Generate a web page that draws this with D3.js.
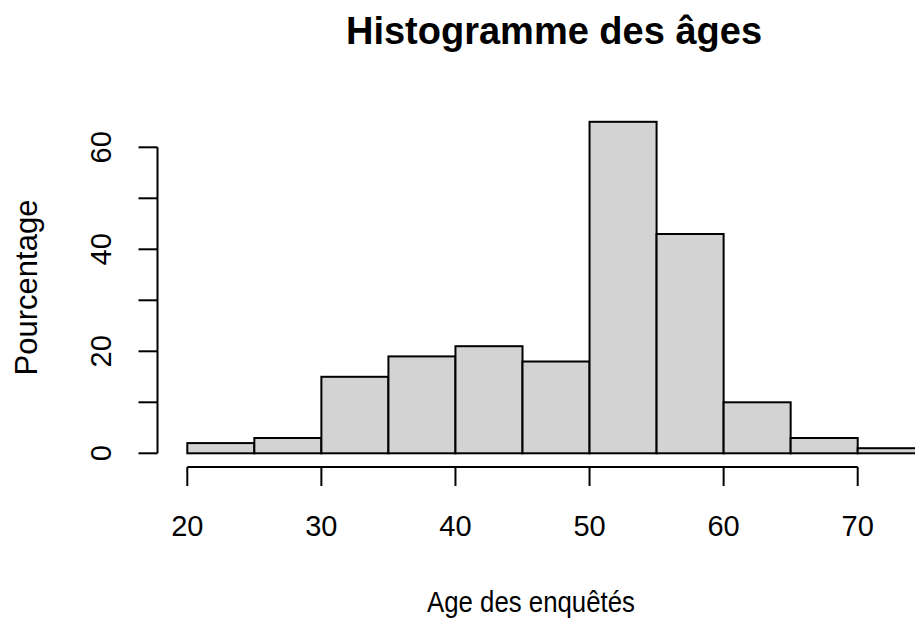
<!DOCTYPE html>
<html>
<head>
<meta charset="utf-8">
<script src="https://cdn.jsdelivr.net/npm/d3@7"></script>
<style>
  body { margin: 0; background: #fff; }
  svg { display: block; font-family: "Liberation Sans", Arial, sans-serif; }
</style>
</head>
<body>
<div class="main"></div>
<script>
// histogram data
var breaks = [20, 25, 30, 35, 40, 45, 50, 55, 60, 65, 70, 75];
var counts = [2, 3, 15, 19, 21, 18, 65, 43, 10, 3, 1];
var xTicks = [20, 30, 40, 50, 60, 70];
var yTicks = [0, 10, 20, 30, 40, 50, 60];
var yLabels = [0, 20, 40, 60];

var width = 915, height = 618;

var svg = d3.select("div.main").append("svg")
    .attr("width", width)
    .attr("height", height);

var x = d3.scaleLinear().domain([20, 70]).range([187.3, 857.7]);
var y = d3.scaleLinear().domain([0, 60]).range([453.3, 147.3]);

var bins = counts.map(function(c, i) {
  return { x0: breaks[i], x1: breaks[i + 1], n: c };
});

// bars
svg.append("g").selectAll("rect")
  .data(bins)
  .enter().append("rect")
    .attr("x", function(d) { return x(d.x0); })
    .attr("y", function(d) { return y(d.n); })
    .attr("width", function(d) { return x(d.x1) - x(d.x0); })
    .attr("height", function(d) { return y(0) - y(d.n); })
    .style("fill", "#d3d3d3")
    .style("stroke", "#000")
    .style("stroke-width", 2);

// x axis (R style: line only between first and last tick)
var xAxis = svg.append("g").attr("transform", "translate(0,467)");
xAxis.append("line")
    .attr("x1", x(xTicks[0])).attr("x2", x(xTicks[xTicks.length - 1]))
    .attr("stroke", "#000").attr("stroke-width", 2);
xAxis.selectAll("line.tick")
  .data(xTicks).enter().append("line")
    .attr("class", "tick")
    .attr("x1", x).attr("x2", x)
    .attr("y1", 0).attr("y2", 19)
    .attr("stroke", "#000").attr("stroke-width", 2);
xAxis.selectAll("text")
  .data(xTicks).enter().append("text")
    .attr("x", x)
    .attr("y", 69)
    .attr("text-anchor", "middle")
    .style("font-size", "29px")
    .text(function(d) { return d; });

// y axis
var yAxis = svg.append("g").attr("transform", "translate(157.5,0)");
yAxis.append("line")
    .attr("y1", y(0)).attr("y2", y(60))
    .attr("stroke", "#000").attr("stroke-width", 2);
yAxis.selectAll("line.tick")
  .data(yTicks).enter().append("line")
    .attr("class", "tick")
    .attr("y1", y).attr("y2", y)
    .attr("x1", 0).attr("x2", -19)
    .attr("stroke", "#000").attr("stroke-width", 2);
yAxis.selectAll("text")
  .data(yLabels).enter().append("text")
    .attr("transform", function(d) { return "translate(-47," + y(d) + ") rotate(-90)"; })
    .attr("text-anchor", "middle")
    .style("font-size", "29px")
    .text(function(d) { return d; });

// titles
svg.append("text")
    .attr("x", 554).attr("y", 44)
    .attr("text-anchor", "middle")
    .style("font-size", "38px")
    .style("font-weight", "bold")
    .text("Histogramme des âges");

// xlab looks narrower than the tick font in the picture, squeeze it a bit
svg.append("text")
    .attr("transform", "translate(531,612) scale(0.86,1)")
    .attr("text-anchor", "middle")
    .style("font-size", "30px")
    .text("Age des enquêtés");

svg.append("text")
    .attr("transform", "translate(37,287.5) rotate(-90)")
    .attr("text-anchor", "middle")
    .style("font-size", "31px")
    .text("Pourcentage");
</script>
</body>
</html>
